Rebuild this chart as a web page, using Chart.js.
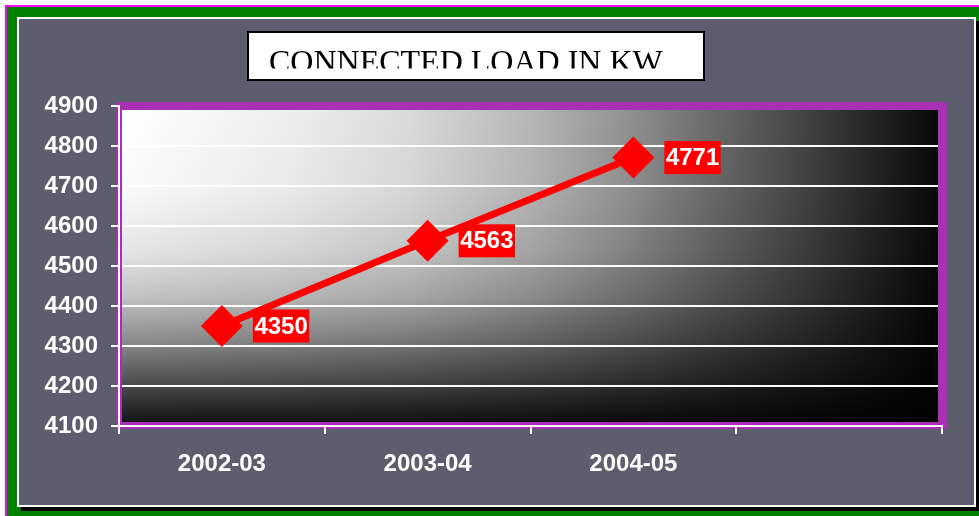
<!DOCTYPE html>
<html>
<head>
<meta charset="utf-8">
<script src="https://cdn.jsdelivr.net/npm/chart.js@4.4.1/dist/chart.umd.min.js"></script>
<style>
    html, body { margin: 0; padding: 0; background: #fff; width: 979px; height: 516px; overflow: hidden; }
    #marco { position: absolute; left: 5px; top: 5px; width: 990px; height: 530px; background: #008000;
             border-top: 2px solid #ff00ff; border-left: 2px solid #ff00ff; }
    #panel { position: absolute; left: 17px; top: 17px; width: 955px; height: 486px; background: #5c5e6e;
             border: 2px solid #fff; box-shadow: 4px 4px 0 #000; }
    #grafica { position: absolute; left: 0; top: 0; }
</style>
</head>
<body>
<div id="marco"></div>
<div id="panel"></div>
<canvas id="grafica" width="979" height="516"></canvas>
<script>
// datos
const titulo = 'CONNECTED LOAD IN KW';
const periodos = ['2002-03', '2003-04', '2004-05', ''];
const cargaKW = [4350, 4563, 4771, null];
const ejeYMin = 4100;
const ejeYMax = 4900;
const ejeYPaso = 100;

const magenta = '#a92fb5';

// fondo degradado del area de trazado + marco magenta
const fondoPlugin = {
    id: 'fondo',
    beforeDraw(chart) {
        const ctx = chart.ctx;
        const a = chart.chartArea;
        ctx.save();
        ctx.fillStyle = magenta;
        ctx.fillRect(a.left - 3, a.top - 4, a.right - a.left + 8, a.bottom - a.top + 7);

        const x0 = a.left + 3, x1 = a.right - 4, y0 = a.top + 4, y1 = a.bottom - 4;
        const gh = ctx.createLinearGradient(x0, 0, x1, 0);
        gh.addColorStop(0, '#ffffff');
        gh.addColorStop(0.2, '#eeeeee');
        gh.addColorStop(0.35, '#dadada');
        gh.addColorStop(0.5, '#b6b6b6');
        gh.addColorStop(0.62, '#909090');
        gh.addColorStop(0.72, '#6c6c6c');
        gh.addColorStop(0.84, '#424242');
        gh.addColorStop(0.95, '#1a1a1a');
        gh.addColorStop(1, '#080808');
        ctx.fillStyle = gh;
        ctx.fillRect(x0, y0, x1 - x0, y1 - y0);

        const gv = ctx.createLinearGradient(0, y0, 0, y1);
        gv.addColorStop(0, 'rgba(0,0,0,0)');
        gv.addColorStop(0.25, 'rgba(0,0,0,0.02)');
        gv.addColorStop(0.45, 'rgba(0,0,0,0.1)');
        gv.addColorStop(0.6, 'rgba(0,0,0,0.24)');
        gv.addColorStop(0.75, 'rgba(0,0,0,0.47)');
        gv.addColorStop(0.88, 'rgba(0,0,0,0.7)');
        gv.addColorStop(1, 'rgba(0,0,0,0.92)');
        ctx.fillStyle = gv;
        ctx.fillRect(x0, y0, x1 - x0, y1 - y0);
        ctx.restore();
    },
    beforeDatasetsDraw(chart) {
        // tapar los extremos de las lineas de rejilla con el marco
        const ctx = chart.ctx;
        const a = chart.chartArea;
        ctx.save();
        ctx.fillStyle = magenta;
        ctx.fillRect(a.left + 1, a.top - 4, a.right - a.left + 4, 8);
        ctx.fillRect(a.right - 4, a.top - 4, 9, a.bottom - a.top + 7);
        ctx.fillRect(a.left + 1, a.top - 4, 2, a.bottom - a.top + 7);
        ctx.fillRect(a.left + 1, a.bottom - 4, a.right - a.left + 4, 7);
        ctx.restore();
    }
};

// etiquetas de valor con caja roja
const etiquetasPlugin = {
    id: 'etiquetas',
    afterDatasetsDraw(chart) {
        const ctx = chart.ctx;
        const meta = chart.getDatasetMeta(0);
        ctx.save();
        ctx.font = 'bold 24px "Liberation Sans", Arial, sans-serif';
        ctx.textBaseline = 'middle';
        ctx.textAlign = 'left';
        meta.data.forEach((p, i) => {
            const v = cargaKW[i];
            if (v === null) return;
            const txt = String(v);
            const w = ctx.measureText(txt).width;
            const bx = p.x + 31;
            ctx.fillStyle = '#ff0000';
            ctx.fillRect(bx, p.y - 16.5, w + 3, 33);
            ctx.fillStyle = '#ffffff';
            ctx.fillText(txt, bx + 1.5, p.y + 1);
        });
        ctx.restore();
    }
};

// titulo en caja blanca, recortado por abajo como en el original
const tituloPlugin = {
    id: 'tituloCaja',
    afterDraw(chart) {
        const ctx = chart.ctx;
        ctx.save();
        ctx.fillStyle = '#ffffff';
        ctx.fillRect(248, 32, 456, 48);
        ctx.strokeStyle = '#000000';
        ctx.lineWidth = 2;
        ctx.strokeRect(248, 32, 456, 48);
        ctx.beginPath();
        ctx.rect(250, 34, 452, 34.5);
        ctx.clip();
        ctx.fillStyle = '#000000';
        ctx.font = '32px "Liberation Serif", "Times New Roman", serif';
        ctx.textBaseline = 'alphabetic';
        ctx.fillText(titulo, 269, 72);
        ctx.restore();
    }
};

const fuenteEjes = { family: '"Liberation Sans", Arial, sans-serif', size: 24, weight: 'bold' };

new Chart(document.getElementById('grafica'), {
    type: 'line',
    data: {
        labels: periodos,
        datasets: [{
            label: titulo,
            data: cargaKW,
            borderColor: '#ff0000',
            backgroundColor: '#ff0000',
            borderWidth: 7,
            pointStyle: 'rectRot',
            pointRadius: 21,
            pointBorderWidth: 0,
            fill: false,
            tension: 0
        }]
    },
    options: {
        responsive: false,
        animation: false,
        layout: { padding: { left: 0, top: 106, right: 37, bottom: 0 } },
        plugins: {
            legend: { display: false },
            tooltip: { enabled: false },
            title: { display: false }
        },
        scales: {
            x: {
                type: 'category',
                offset: true,
                grid: { offset: true, drawOnChartArea: false, color: '#ffffff', lineWidth: 2, tickLength: 8, z: 1 },
                border: { color: '#ffffff', width: 2, z: 1 },
                ticks: { color: '#ffffff', font: fuenteEjes, padding: 16, maxRotation: 0, autoSkip: false },
                afterFit(scale) { scale.height = 90; }
            },
            y: {
                min: ejeYMin,
                max: ejeYMax,
                grid: { color: '#ffffff', lineWidth: 2, tickLength: 8 },
                border: { color: '#ffffff', width: 2 },
                ticks: {
                    stepSize: ejeYPaso,
                    color: '#ffffff',
                    font: fuenteEjes,
                    padding: 13,
                    callback: (v) => String(v)
                },
                afterFit(scale) { scale.width = 119; }
            }
        }
    },
    plugins: [fondoPlugin, etiquetasPlugin, tituloPlugin]
});
</script>
</body>
</html>
